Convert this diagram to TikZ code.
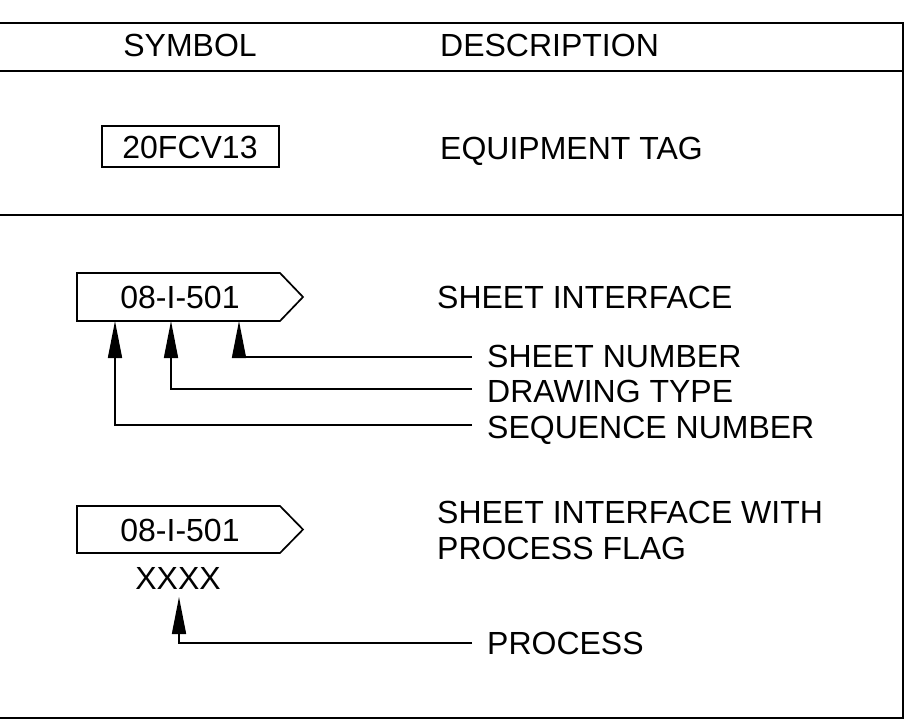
\documentclass[tikz,border=0pt]{standalone}
\usepackage{fontspec}
\setmainfont{Liberation Sans}
\usetikzlibrary{arrows.meta}
\begin{document}
\begin{tikzpicture}[x=1pt,y=-1pt,
  frame/.style={line width=2pt},
  outline/.style={line width=1.7pt},
  lbl/.style={inner sep=0pt, text height=23pt, text depth=0pt, font=\fontsize{32}{38}\selectfont},
  ptr/.style={line width=1.7pt, -{Triangle[length=37pt,width=14pt]}}]
\useasboundingbox (0,0) rectangle (916,720);
% frame
\draw[frame] (-2,23) -- (903,23) -- (903,718) -- (-2,718);
\draw[frame] (-2,71) -- (903,71);
\draw[frame] (-2,215) -- (903,215);
% header
\node[lbl] (hsym) at (190,45) {SYMBOL};
\node[lbl, anchor=west] (hdesc) at (440,45) {DESCRIPTION};
% equipment tag
\node[lbl] (tagtxt) at (190,147) {20FCV13};
\draw[outline] (102,126) rectangle (279,167);
\node[lbl, anchor=west] (dtag) at (440,148) {EQUIPMENT TAG};
% sheet interface 1
\draw[outline] (77,273) -- (280,273) -- (303,297) -- (280,321) -- (77,321) -- cycle;
\node[lbl] (sh1) at (180,297) {08-I-501};
\node[lbl, anchor=west] (dsh1) at (437,297) {SHEET INTERFACE};
\coordinate (pnum) at (239,321);
\coordinate (ptyp) at (171,321);
\coordinate (pseq) at (115,321);
\node[lbl, anchor=west] (lnum) at (487,356) {SHEET NUMBER};
\node[lbl, anchor=west] (ltyp) at (487,391) {DRAWING TYPE};
\node[lbl, anchor=west] (lseq) at (487,427) {SEQUENCE NUMBER};
\draw[ptr] ([xshift=-15pt,yshift=-1pt]lnum.west) -| (pnum);
\draw[ptr] ([xshift=-15pt,yshift=2pt]ltyp.west) -| (ptyp);
\draw[ptr] ([xshift=-15pt,yshift=2pt]lseq.west) -| (pseq);
% sheet interface 2
\draw[outline] (77,506) -- (280,506) -- (303,529.5) -- (280,553) -- (77,553) -- cycle;
\node[lbl] (sh2) at (180,529.5) {08-I-501};
\node[lbl] (xx) at (178,578) {XXXX};
\node[lbl, anchor=west] (dsh2a) at (437,512) {SHEET INTERFACE WITH};
\node[lbl, anchor=west] (dsh2b) at (437,548) {PROCESS FLAG};
\coordinate (pproc) at (179,597);
\node[lbl, anchor=west] (lproc) at (487,643) {PROCESS};
\draw[ptr] ([xshift=-15pt]lproc.west) -| (pproc);
\end{tikzpicture}
\end{document}
